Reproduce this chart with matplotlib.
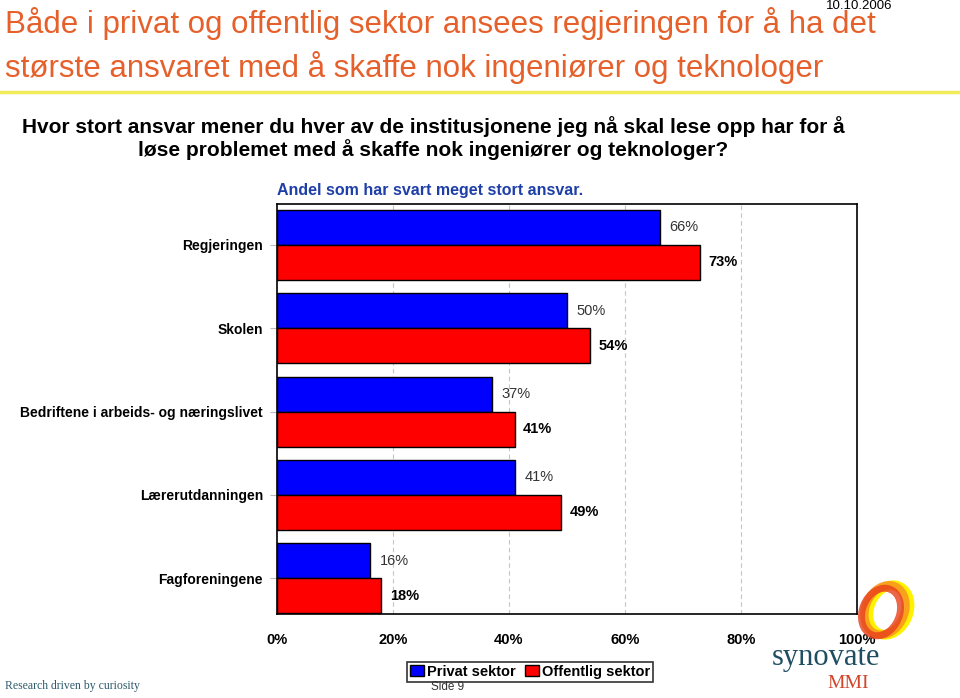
import matplotlib
matplotlib.use("Agg")
import matplotlib.pyplot as plt
from matplotlib.patches import Ellipse
import numpy as np

plt.rcParams['font.family'] = ['Liberation Sans', 'DejaVu Sans']

categories = ["Regjeringen", "Skolen", "Bedriftene i arbeids- og næringslivet",
              "Lærerutdanningen", "Fagforeningene"]
privat = [66, 50, 37, 41, 16]
offentlig = [73, 54, 41, 49, 18]
series_names = ["Privat sektor", "Offentlig sektor"]
xticks = [0, 20, 40, 60, 80, 100]
xticklabels = ["0%", "20%", "40%", "60%", "80%", "100%"]

title_lines = ["Både i privat og offentlig sektor ansees regjeringen for å ha det",
               "største ansvaret med å skaffe nok ingeniører og teknologer"]
question = "Hvor stort ansvar mener du hver av de institusjonene jeg nå skal lese opp har for å\nløse problemet med å skaffe nok ingeniører og teknologer?"
subtitle = "Andel som har svart meget stort ansvar."

fig = plt.figure(figsize=(9.6, 6.98), dpi=100)
ax = fig.add_axes([277/960, 1-614/698, 580/960, 410/698])

y = np.arange(len(categories))
h = 0.42
ax.barh(y - h/2, privat, height=h, color="#0000FF", edgecolor="black", linewidth=1, zorder=3, label=series_names[0])
ax.barh(y + h/2, offentlig, height=h, color="#FF0000", edgecolor="black", linewidth=1, zorder=3, label=series_names[1])

for i in range(len(categories)):
    ax.annotate(f"{privat[i]}%", (privat[i], y[i] - h/2), xytext=(7, 0), textcoords="offset points",
                va="center", ha="left", fontsize=10.5, color="#333333")
    ax.annotate(f"{offentlig[i]}%", (offentlig[i], y[i] + h/2), xytext=(6, 0), textcoords="offset points",
                va="center", ha="left", fontsize=10.5, color="black", fontweight="bold")

ax.set_xlim(0, 100)
ax.set_ylim(4.43, -0.49)
ax.set_yticks(y)
ax.set_yticklabels(categories, fontsize=10, fontweight="bold")
ax.set_xticks(xticks)
ax.set_xticklabels(xticklabels, fontsize=10.5, fontweight="bold")
ax.tick_params(axis="y", length=5, color="#BBBBBB", pad=5)
ax.tick_params(axis="x", length=0, pad=14)
for gx in [20, 40, 60, 80]:
    ax.axvline(gx, color="#C4C4C4", linestyle=(0, (4, 3)), linewidth=0.8, zorder=1)
for s in ax.spines.values():
    s.set_linewidth(1.2)
    s.set_color("black")

leg = ax.legend(loc="upper center", bbox_to_anchor=(530/960, 1-662/698), bbox_transform=fig.transFigure,
                ncol=2, frameon=True, fancybox=False, edgecolor="black", fontsize=10.5,
                handlelength=1.0, handleheight=0.8, handletextpad=0.2, columnspacing=0.6,
                borderpad=0.2, borderaxespad=0)
for t in leg.get_texts():
    t.set_fontweight("bold")
leg.get_frame().set_linewidth(1.2)

# Header
fig.text(5/960, 1-24/698, title_lines[0], ha="left", va="center", fontsize=22.5, color="#E5602B")
fig.text(5/960, 1-67/698, title_lines[1], ha="left", va="center", fontsize=22.5, color="#E5602B")
fig.text(892/960, 1-6/698, "10.10.2006", ha="right", va="center", fontsize=9.5, color="black")
fig.add_artist(plt.Line2D([0, 1], [1-92/698, 1-92/698], color="#F2EC5A", linewidth=2.5, transform=fig.transFigure))
fig.text(433/960, 1-116/698, question, ha="center", va="top", fontsize=15, fontweight="bold",
         color="black", linespacing=1.12)
fig.text(277/960, 1-190/698, subtitle, ha="left", va="center", fontsize=11.5, fontweight="bold", color="#1F3FA8")

# Footer
fig.text(5/960, 1-686/698, "Research driven by curiosity", ha="left", va="center", fontsize=8.5,
         family="Liberation Serif", color="#2D5B6B")
fig.text(448/960, 1-687/698, "Side 9", ha="center", va="center", fontsize=8.5, color="#333333")
fig.text(826/960, 1-657/698, "synovate", ha="center", va="center", fontsize=22,
         family="Liberation Serif", color="#1F4E63")
fig.text(848/960, 1-684/698, "MMI", ha="center", va="center", fontsize=14,
         family="Liberation Serif", color="#D2452A")
# ring logo
fig.add_artist(Ellipse((889/960, 1-610/698), 40/960, 50/698, angle=-10, fill=False, edgecolor="#FFF200",
                       linewidth=7, transform=fig.transFigure))
fig.add_artist(Ellipse((885/960, 1-610/698), 40/960, 50/698, angle=-10, fill=False, edgecolor="#F7931E",
                       linewidth=6, transform=fig.transFigure, alpha=0.85))
fig.add_artist(Ellipse((881/960, 1-612/698), 38/960, 48/698, angle=-10, fill=False, edgecolor="#E8401C",
                       linewidth=5, transform=fig.transFigure, alpha=0.8))

fig.savefig("out.png", dpi=100)
